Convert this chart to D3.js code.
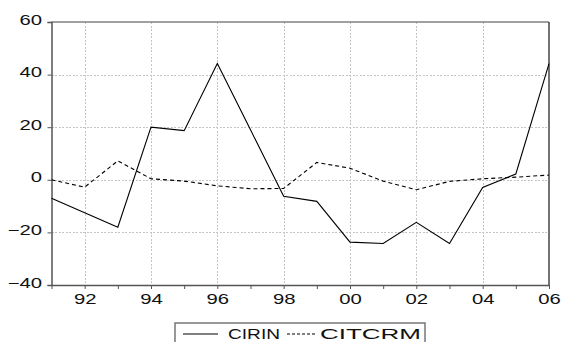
<!DOCTYPE html>
<html>
<head>
<meta charset="utf-8">
<script src="https://cdn.jsdelivr.net/npm/d3@7"></script>
<style>
  body { margin: 0; background: #fff; }
  text { font-family: "Liberation Sans", Arial, sans-serif; fill: #111; }
</style>
</head>
<body>
<svg id="chart" width="563" height="342"></svg>
<script>
// Annual series, 1991-2006
const years = d3.range(1991, 2007);
const cirin  = [-7, -12.5, -18, 20, 18.7, 44.2, 19, -6.3, -8.2, -23.7, -24.2, -16.2, -24.2, -2.9, 2.2, 44.2];
const citcrm = [0, -2.8, 7.2, 0.4, -0.5, -2.3, -3.4, -3.3, 6.6, 4.4, -0.5, -3.8, -0.6, 0.4, 1.0, 1.8];
const yTicks = [-40, -20, 0, 20, 40, 60];
const yGrid = [-20, 0, 20, 40];
const xLabelYears = [1992, 1994, 1996, 1998, 2000, 2002, 2004, 2006];
const xGridYears = [1992, 1994, 1996, 1998, 2000, 2002, 2004];
const seriesNames = ["CIRIN", "CITCRM"];

const svg = d3.select("#chart");
const plotL = 51.5, plotR = 549, plotT = 22, plotB = 285;
const stretch = 1.45;  // wide glyph look

const x = d3.scaleLinear().domain([1991, 2006]).range([plotL, plotR]);
const y = d3.scaleLinear().domain([-40, 60]).range([plotB, plotT]);

// grid
const grid = svg.append("g").attr("stroke", "#c4c4c4").attr("stroke-width", 1)
  .attr("stroke-dasharray", "2,1.5").attr("shape-rendering", "crispEdges");
grid.selectAll("line.v").data(xGridYears).join("line").attr("class", "v")
  .attr("x1", d => Math.round(x(d)) + 0.5).attr("x2", d => Math.round(x(d)) + 0.5)
  .attr("y1", plotT).attr("y2", plotB);
grid.selectAll("line.h").data(yGrid).join("line").attr("class", "h")
  .attr("x1", plotL).attr("x2", plotR)
  .attr("y1", d => Math.round(y(d)) + 0.5).attr("y2", d => Math.round(y(d)) + 0.5);

// frame: top and right borders
svg.append("line").attr("x1", plotL).attr("x2", plotR).attr("y1", plotT).attr("y2", plotT)
  .attr("stroke", "#808080").attr("stroke-width", 1.5);
svg.append("line").attr("x1", plotR).attr("x2", plotR).attr("y1", plotT).attr("y2", plotB)
  .attr("stroke", "#444").attr("stroke-width", 1.5);

// y axis
const yAxis = svg.append("g").attr("transform", `translate(${plotL},0)`)
  .call(d3.axisLeft(y).tickValues(yTicks).tickSize(4).tickPadding(9.5).tickFormat(d3.format("d")));
yAxis.select(".domain").attr("stroke", "#555").attr("stroke-width", 1.5);
yAxis.selectAll(".tick line").attr("stroke", "#555");
yAxis.selectAll(".tick text")
  .attr("font-size", 14).attr("fill", "#111")
  .attr("transform", `scale(${stretch},1)`)
  .attr("x", -9.5 / stretch).attr("dy", "2px").attr("dominant-baseline", "alphabetic");

// x axis
const xAxis = svg.append("g").attr("transform", `translate(0,${plotB})`)
  .call(d3.axisBottom(x).tickValues(years).tickSize(4).tickSizeOuter(0)
    .tickFormat(d => xLabelYears.includes(d) ? d3.format("02d")(d % 100) : ""));
xAxis.select(".domain").attr("stroke", "#555").attr("stroke-width", 1.5);
xAxis.selectAll(".tick line").attr("stroke", "#555");
xAxis.selectAll(".tick text")
  .attr("font-size", 14).attr("fill", "#111")
  .attr("transform", `scale(${stretch},1)`)
  .attr("y", 19).attr("dy", 0);

// series lines
const line = d3.line().x((d, i) => x(years[i])).y(d => y(d));
svg.append("path").datum(cirin).attr("d", line)
  .attr("fill", "none").attr("stroke", "#000").attr("stroke-width", 1.1);
svg.append("path").datum(citcrm).attr("d", line)
  .attr("fill", "none").attr("stroke", "#000").attr("stroke-width", 1.1)
  .attr("stroke-dasharray", "4,3");

// legend
const lg = svg.append("g");
lg.append("rect").attr("x", 175).attr("y", 323).attr("width", 250).attr("height", 30)
  .attr("fill", "#fff").attr("stroke", "#777").attr("stroke-width", 1.5);
lg.append("line").attr("x1", 183).attr("x2", 218).attr("y1", 334).attr("y2", 334)
  .attr("stroke", "#000").attr("stroke-width", 1.1);
lg.append("line").attr("x1", 287).attr("x2", 316).attr("y1", 334).attr("y2", 334)
  .attr("stroke", "#000").attr("stroke-width", 1.1).attr("stroke-dasharray", "3,2");
const labelX = [228, 320];
const labelW = [52, 101];
lg.selectAll("text.lab").data(seriesNames).join("text").attr("class", "lab")
  .attr("x", (d, i) => labelX[i]).attr("y", 339)
  .attr("font-size", 15)
  .attr("textLength", (d, i) => labelW[i]).attr("lengthAdjust", "spacingAndGlyphs")
  .text(d => d);
</script>
</body>
</html>
